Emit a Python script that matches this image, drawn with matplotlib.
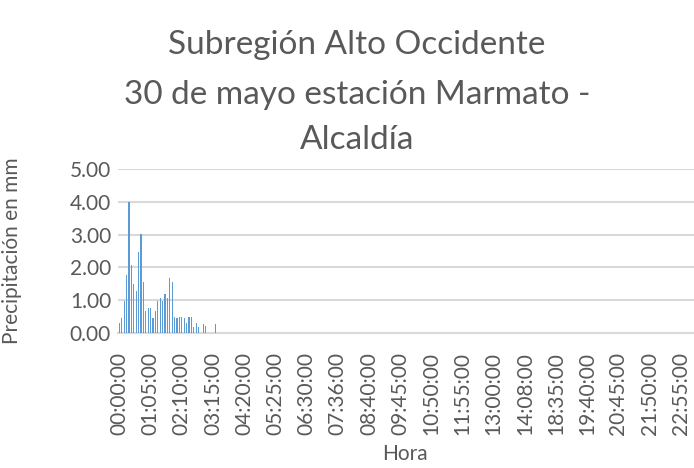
"""Precipitación Marmato - Alcaldía, 30 de mayo."""

import matplotlib
matplotlib.use("Agg")
import matplotlib.pyplot as plt

# Precipitation (mm) per 5-min record; the rest of the day is 0.
precip_start = [0.30, 0.46, 0.99, 1.77, 3.98, 2.08, 1.48, 1.28, 2.46, 3.01,
                1.57, 0.66, 0.77, 0.76, 0.47, 0.66, 0.98, 1.07, 0.97, 1.20,
                1.07, 1.67, 1.57, 0.49, 0.46, 0.49, 0.49, 0.46, 0.30, 0.48,
                0.48, 0.18, 0.29, 0.18, 0.00, 0.28, 0.20, 0.00, 0.00, 0.00,
                0.28]
n_records = 240
precip = precip_start + [0.0] * (n_records - len(precip_start))

tick_step = 13
tick_labels = ["00:00:00", "01:05:00", "02:10:00", "03:15:00", "04:20:00",
               "05:25:00", "06:30:00", "07:36:00", "08:40:00", "09:45:00",
               "10:50:00", "11:55:00", "13:00:00", "14:08:00", "18:35:00",
               "19:40:00", "20:45:00", "21:50:00", "22:55:00"]

font = ["Lato", "DejaVu Sans"]
grey = "#595959"
W, H = 694, 468

fig = plt.figure(figsize=(6.94, 4.68), dpi=100)
ax = fig.add_axes([118 / W, 1 - 333 / H, (W - 118) / W, (333 - 169) / H])

x = list(range(n_records))
ax.bar(x, precip, width=0.45, color="#5B9BD5", zorder=3)

ax.set_xlim(-0.6, n_records - 0.5)
ax.set_ylim(0, 5)
ax.set_yticks([0, 1, 2, 3, 4, 5])
ax.set_yticklabels([f"{v:.2f}" for v in [0, 1, 2, 3, 4, 5]],
                   fontsize=15, color=grey, family=font)
ax.set_xticks(x[::tick_step][:len(tick_labels)])
ax.set_xticklabels(tick_labels, rotation=90, fontsize=15, color=grey, family=font)
ax.tick_params(axis="both", length=0)
ax.tick_params(axis="y", pad=5)
ax.tick_params(axis="x", pad=14)

ax.grid(axis="y", color="#D9D9D9", linewidth=1.5, zorder=0)
for side in ["top", "right", "left"]:
    ax.spines[side].set_visible(False)
ax.spines["bottom"].set_color("#D9D9D9")
ax.spines["bottom"].set_linewidth(1.5)

ax.set_ylabel("Precipitación en mm", fontsize=15, color=grey, family=font)
ax.yaxis.set_label_coords((22 - 118) / (W - 118), (333 - 251) / (333 - 169))
ax.set_xlabel("Hora", fontsize=15, color=grey, family=font)
ax.xaxis.set_label_coords((405 - 118) / (W - 118), -(444 - 333) / (333 - 169))

title_lines = ["Subregión Alto Occidente", "30 de mayo estación Marmato -", "Alcaldía"]
for line, y in zip(title_lines, [45, 95, 140]):
    fig.text(357 / W, 1 - y / H, line, ha="center", va="center",
             fontsize=24, color=grey, family=font)

fig.savefig("out.png", dpi=100)
